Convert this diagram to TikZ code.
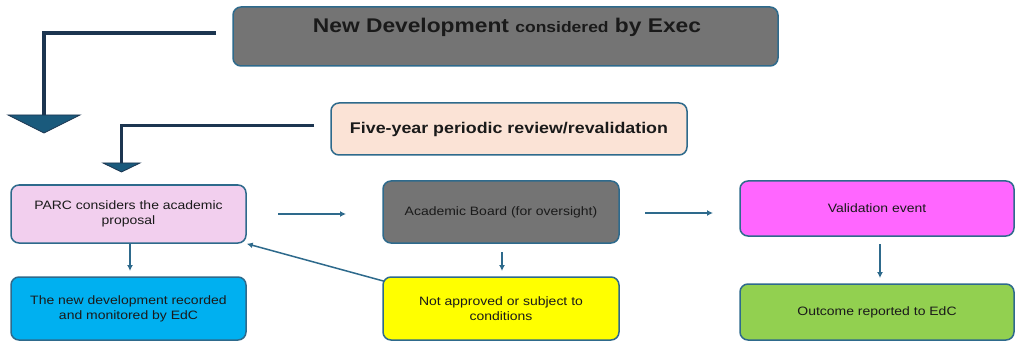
\documentclass[tikz,border=0pt]{standalone}
\usepackage{fontspec}
\setmainfont[FakeStretch=1.15]{Liberation Sans}
\usetikzlibrary{arrows.meta}
\definecolor{bordc}{HTML}{2E6A8C}
\definecolor{gryc}{HTML}{747474}
\definecolor{peachc}{HTML}{FBE3D6}
\definecolor{pinkc}{HTML}{F2CFEE}
\definecolor{magc}{HTML}{FF66FF}
\definecolor{cyanc}{HTML}{00B0F0}
\definecolor{yelc}{HTML}{FFFF00}
\definecolor{grnc}{HTML}{92D050}
\definecolor{navyc}{HTML}{1C3550}
\definecolor{headc}{HTML}{1A5A7C}
\definecolor{txtc}{HTML}{1A1A1A}
\tikzset{
  box/.style={draw=bordc, line width=1.5pt, rounded corners=8pt, inner sep=0pt,
    align=center, text=txtc, font=\fontsize{12.15}{15}\selectfont},
  thinarrow/.style={draw=bordc, line width=1.5pt, -{Latex[length=6pt,width=6pt]}},
  elbow/.style={draw=navyc, line width=3.5pt},
  bighead/.style={fill=headc, draw=navyc, line width=0.8pt, line join=miter},
}
\begin{document}
\begin{tikzpicture}[x=1pt,y=-1pt]
\useasboundingbox (0,0) rectangle (1015,342);
% boxes
\node[box, fill=gryc, minimum width=545pt, minimum height=59pt] (exec) at (505.5,36.5) {};
\node[text=txtc, font=\bfseries\fontsize{19.8}{22}\selectfont, anchor=base] (exectext) at (507,32.5)
  {New Development {\fontsize{15.2}{17}\selectfont considered} by Exec};
\node[box, fill=peachc, minimum width=356pt, minimum height=52pt, font=\bfseries\fontsize{15.5}{18}\selectfont] (five) at (509,129) {Five-year periodic review/revalidation};
\node[box, fill=pinkc, minimum width=235pt, minimum height=58pt] (parc) at (128.5,214) {PARC considers the academic\\proposal};
\node[box, fill=gryc, minimum width=236pt, minimum height=62pt] (board) at (501,212) {Academic Board (for oversight)};
\node[box, fill=magc, minimum width=274pt, minimum height=55pt] (valid) at (877,208.5) {Validation event};
\node[box, fill=cyanc, minimum width=235pt, minimum height=63pt] (recorded) at (128.5,308.5) {The new development recorded\\and monitored by EdC};
\node[box, fill=yelc, minimum width=236pt, minimum height=63pt] (notappr) at (501,308.5) {Not approved or subject to\\conditions};
\node[box, fill=grnc, minimum width=274pt, minimum height=56pt] (outcome) at (877,312) {Outcome reported to EdC};
% elbow connectors
\coordinate (e1s) at (216,33);
\coordinate (e1e) at (44,117);
\draw[elbow] (e1s) -| (e1e);
\path[bighead] (8,115) -- (80,115) -- (44,133) -- cycle;
\coordinate (e2s) at (314,126);
\coordinate (e2e) at (121,164);
\draw[elbow, line width=3pt] (e2s) -| (e2e);
\path[bighead] (103,163) -- (140,163) -- (121.5,172) -- cycle;
% thin arrows
\coordinate (a1s) at (278,214);
\coordinate (a1e) at (346,214);
\draw[thinarrow] (a1s) -- (a1e);
\coordinate (a2s) at (645,213);
\coordinate (a2e) at (713,213);
\draw[thinarrow] (a2s) -- (a2e);
\coordinate (a3e) at (130,271);
\draw[thinarrow] (130,243.5) -- (a3e);
\coordinate (a4s) at (502,252);
\coordinate (a4e) at (502,271);
\draw[thinarrow] (a4s) -- (a4e);
\coordinate (a5s) at (880,244);
\coordinate (a5e) at (880,278);
\draw[thinarrow] (a5s) -- (a5e);
\draw[thinarrow] (notappr.north west) ++(2,5) -- (parc.south east);
\end{tikzpicture}
\end{document}
